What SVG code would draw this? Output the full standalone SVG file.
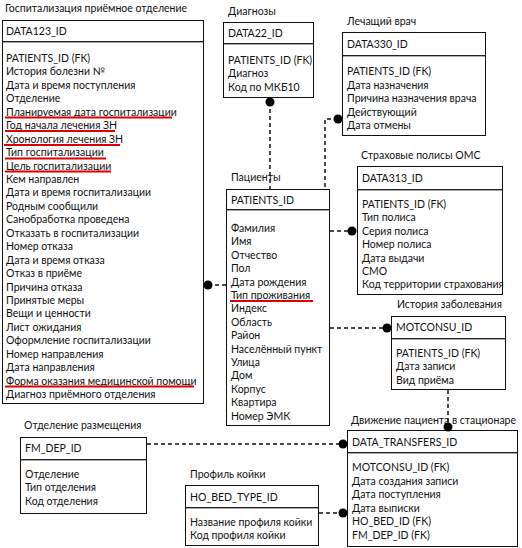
<svg xmlns="http://www.w3.org/2000/svg" width="522" height="548" viewBox="0 0 522 548">
<style>
text{font-family:Lato,"Noto Sans","DejaVu Sans",sans-serif;font-size:10.5px;fill:#111}
.box{fill:#fff;stroke:#111;stroke-width:1}
.hl{stroke:#222;stroke-width:1}
.hl2{stroke:#aaa;stroke-width:1}
.ul{stroke:#e00000;stroke-width:2}
.cn{stroke:#111;stroke-width:1.5;stroke-dasharray:4 3;fill:none}
.dot{fill:#000}
</style>
<rect width="522" height="548" fill="#fff"/>

<g id="data123">
<text x="5" y="12">Госпитализация приёмное отделение</text>
<rect class="box" x="2.5" y="20.5" width="201" height="383"/>
<line class="hl" x1="2.5" y1="41.5" x2="203.5" y2="41.5"/><line class="hl2" x1="3" y1="42.5" x2="203" y2="42.5"/>
<text x="6" y="35">DATA123_ID</text>
<text x="6" y="62">PATIENTS_ID (FK)</text>
<text x="6" y="75.4">История болезни №</text>
<text x="6" y="88.9">Дата и время поступления</text>
<text x="6" y="102.3">Отделение</text>
<text x="6" y="115.8">Планируемая дата госпитализации</text>
<text x="6" y="129.2">Год начала лечения ЗН</text>
<text x="6" y="142.6">Хронология лечения ЗН</text>
<text x="6" y="156.1">Тип госпитализации</text>
<text x="6" y="169.5">Цель госпитализации</text>
<text x="6" y="183">Кем направлен</text>
<text x="6" y="196.4">Дата и время госпитализации</text>
<text x="6" y="209.8">Родным сообщили</text>
<text x="6" y="223.3">Санобработка проведена</text>
<text x="6" y="236.7">Отказать в госпитализации</text>
<text x="6" y="250.2">Номер отказа</text>
<text x="6" y="263.6">Дата и время отказа</text>
<text x="6" y="277">Отказ в приёме</text>
<text x="6" y="290.5">Причина отказа</text>
<text x="6" y="303.9">Принятые меры</text>
<text x="6" y="317.4">Вещи и ценности</text>
<text x="6" y="330.8">Лист ожидания</text>
<text x="6" y="344.2">Оформление госпитализации</text>
<text x="6" y="357.7">Номер направления</text>
<text x="6" y="371.1">Дата направления</text>
<text x="6" y="384.6">Форма оказания медицинской помощи</text>
<text x="6" y="398">Диагноз приёмного отделения</text>
<line class="ul" x1="5" y1="117.5" x2="172" y2="117.5"/>
<line class="ul" x1="5" y1="131" x2="115" y2="131"/>
<line class="ul" x1="4" y1="145" x2="120" y2="145"/>
<line class="ul" x1="5" y1="158.5" x2="106" y2="158.5"/>
<line class="ul" x1="5" y1="171.5" x2="111" y2="171.5"/>
<line class="ul" x1="5" y1="386.5" x2="194" y2="386.5"/>
</g>

<g id="data22">
<text x="228" y="15">Диагнозы</text>
<rect class="box" x="223.5" y="22.5" width="90" height="75"/>
<line class="hl" x1="223.5" y1="43.5" x2="313.5" y2="43.5"/><line class="hl2" x1="224" y1="44.5" x2="313" y2="44.5"/>
<text x="228" y="37">DATA22_ID</text>
<text x="228" y="64">PATIENTS_ID (FK)</text>
<text x="228" y="77.4">Диагноз</text>
<text x="228" y="90.8">Код по МКБ10</text>
</g>

<g id="data330">
<text x="347" y="25">Лечащий врач</text>
<rect class="box" x="342.5" y="32.5" width="143" height="103"/>
<line class="hl" x1="342.5" y1="55.5" x2="485.5" y2="55.5"/><line class="hl2" x1="343" y1="56.5" x2="485" y2="56.5"/>
<text x="347" y="48">DATA330_ID</text>
<text x="347" y="75">PATIENTS_ID (FK)</text>
<text x="347" y="88.5">Дата назначения</text>
<text x="347" y="102">Причина назначения врача</text>
<text x="347" y="115.5">Действующий</text>
<text x="347" y="129">Дата отмены</text>
</g>

<g id="data313">
<text x="361" y="159">Страховые полисы ОМС</text>
<rect class="box" x="357.5" y="166.5" width="145" height="128"/>
<line class="hl" x1="357.5" y1="189.5" x2="502.5" y2="189.5"/><line class="hl2" x1="358" y1="190.5" x2="502" y2="190.5"/>
<text x="362" y="182">DATA313_ID</text>
<text x="362" y="208">PATIENTS_ID (FK)</text>
<text x="362" y="221.4">Тип полиса</text>
<text x="362" y="234.8">Серия полиса</text>
<text x="362" y="248.2">Номер полиса</text>
<text x="362" y="261.6">Дата выдачи</text>
<text x="362" y="275">СМО</text>
<text x="362" y="288.4">Код территории страхования</text>
</g>

<g id="patients">
<text x="231" y="181">Пациенты</text>
<rect class="box" x="226.5" y="189.5" width="103" height="236"/>
<line class="hl" x1="226.5" y1="209.5" x2="329.5" y2="209.5"/><line class="hl2" x1="227" y1="210.5" x2="329" y2="210.5"/>
<text x="231" y="204">PATIENTS_ID</text>
<text x="231" y="232">Фамилия</text>
<text x="231" y="245.4">Имя</text>
<text x="231" y="258.8">Отчество</text>
<text x="231" y="272.2">Пол</text>
<text x="231" y="285.6">Дата рождения</text>
<text x="231" y="299">Тип проживания</text>
<text x="231" y="312.4">Индекс</text>
<text x="231" y="325.8">Область</text>
<text x="231" y="339.2">Район</text>
<text x="231" y="352.6">Населённый пункт</text>
<text x="231" y="366">Улица</text>
<text x="231" y="379.4">Дом</text>
<text x="231" y="392.8">Корпус</text>
<text x="231" y="406.2">Квартира</text>
<text x="231" y="419.6">Номер ЭМК</text>
<line class="ul" x1="230" y1="301" x2="313" y2="301"/>
</g>

<g id="motconsu">
<text x="397" y="308">История заболевания</text>
<rect class="box" x="391.5" y="316.5" width="114" height="73"/>
<line class="hl" x1="391.5" y1="338.5" x2="505.5" y2="338.5"/><line class="hl2" x1="392" y1="339.5" x2="505" y2="339.5"/>
<text x="396" y="331">MOTCONSU_ID</text>
<text x="396" y="357">PATIENTS_ID (FK)</text>
<text x="396" y="370.4">Дата записи</text>
<text x="396" y="383.8">Вид приёма</text>
</g>

<g id="transfers">
<text x="351" y="424" textLength="165" lengthAdjust="spacingAndGlyphs">Движение пациента в стационаре</text>
<rect class="box" x="347.5" y="430.5" width="170" height="116"/>
<line class="hl" x1="347.5" y1="452.5" x2="517.5" y2="452.5"/><line class="hl2" x1="348" y1="453.5" x2="517" y2="453.5"/>
<text x="352" y="446">DATA_TRANSFERS_ID</text>
<text x="352" y="471">MOTCONSU_ID (FK)</text>
<text x="352" y="484.5">Дата создания записи</text>
<text x="352" y="498">Дата поступления</text>
<text x="352" y="511.5">Дата выписки</text>
<text x="352" y="525">HO_BED_ID (FK)</text>
<text x="352" y="538.5">FM_DEP_ID (FK)</text>
</g>

<g id="fmdep">
<text x="24" y="429">Отделение размещения</text>
<rect class="box" x="20.5" y="437.5" width="126" height="76"/>
<line class="hl" x1="20.5" y1="459.5" x2="146.5" y2="459.5"/><line class="hl2" x1="21" y1="460.5" x2="146" y2="460.5"/>
<text x="25" y="452">FM_DEP_ID</text>
<text x="25" y="478">Отделение</text>
<text x="25" y="491.4">Тип отделения</text>
<text x="25" y="504.8">Код отделения</text>
</g>

<g id="hobed">
<text x="190" y="478">Профиль койки</text>
<rect class="box" x="185.5" y="485.5" width="133" height="60"/>
<line class="hl" x1="185.5" y1="507.5" x2="318.5" y2="507.5"/><line class="hl2" x1="186" y1="508.5" x2="318" y2="508.5"/>
<text x="190" y="501">HO_BED_TYPE_ID</text>
<text x="190" y="526">Название профиля койки</text>
<text x="190" y="539.4">Код профиля койки</text>
</g>

<g id="connectors">
<path class="cn" d="M270,102 V189"/>
<path class="cn" d="M338,119 H325 V189"/>
<path class="cn" d="M330,231 H352"/>
<path class="cn" d="M208,285 H226"/>
<path class="cn" d="M330,328 H387"/>
<path class="cn" d="M448,390 V427"/>
<path class="cn" d="M147,444 H343"/>
<path class="cn" d="M319,513 H343"/>
<circle class="dot" cx="270" cy="102" r="4.5"/>
<circle class="dot" cx="338" cy="119" r="4.5"/>
<circle class="dot" cx="352" cy="231" r="4.5"/>
<circle class="dot" cx="208" cy="285" r="4.5"/>
<circle class="dot" cx="387" cy="328" r="4.5"/>
<circle class="dot" cx="448" cy="427" r="4.5"/>
<circle class="dot" cx="343" cy="444" r="4.5"/>
<circle class="dot" cx="343" cy="513" r="4.5"/>
</g>
</svg>
